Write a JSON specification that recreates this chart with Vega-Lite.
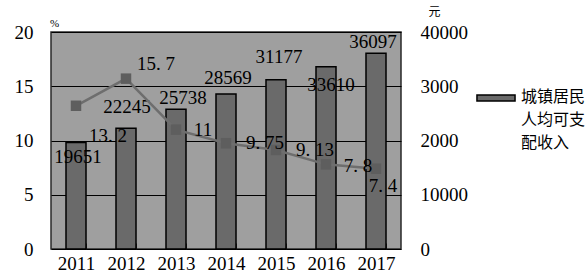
{
  "$schema": "https://vega.github.io/schema/vega-lite/v6.json",
  "width": 350,
  "height": 217,
  "autosize": {"type": "none"},
  "padding": {"left": 51, "top": 32, "right": 187, "bottom": 25},
  "background": "white",
  "config": {
    "font": "Liberation Serif",
    "view": {"fill": "#9f9f9f", "stroke": "#2a2a2a", "strokeWidth": 1.5}
  },
  "data": {
    "values": [
      {"year": "2011", "income": 19651, "rate": 13.2, "series": "城镇居民人均可支配收入"},
      {"year": "2012", "income": 22245, "rate": 15.7, "series": "城镇居民人均可支配收入"},
      {"year": "2013", "income": 25738, "rate": 11, "series": "城镇居民人均可支配收入"},
      {"year": "2014", "income": 28569, "rate": 9.75, "series": "城镇居民人均可支配收入"},
      {"year": "2015", "income": 31177, "rate": 9.13, "series": "城镇居民人均可支配收入"},
      {"year": "2016", "income": 33610, "rate": 7.8, "series": "城镇居民人均可支配收入"},
      {"year": "2017", "income": 36097, "rate": 7.4, "series": "城镇居民人均可支配收入"}
    ]
  },
  "encoding": {
    "x": {
      "field": "year",
      "type": "ordinal",
      "scale": {"paddingInner": 0.6, "paddingOuter": 0.3},
      "axis": {
        "title": null,
        "labelAngle": 0,
        "labelFontSize": 19,
        "labelColor": "black",
        "labelPadding": 11,
        "domain": false,
        "ticks": true,
        "tickBand": "extent",
        "tickSize": -6,
        "tickColor": "#333",
        "tickWidth": 1
      }
    }
  },
  "layer": [
    {
      "encoding": {
        "y": {
          "field": "income",
          "type": "quantitative",
          "scale": {"domain": [0, 40000], "nice": false},
          "axis": {
            "orient": "right",
            "values": [0, 10000, 20000, 30000, 40000],
            "labelExpr": "datum.value == 30000 ? '3000' : datum.value == 20000 ? '2000' : datum.value",
            "labelFontSize": 19,
            "labelColor": "black",
            "labelPadding": 19,
            "ticks": false,
            "domain": false,
            "grid": false,
            "title": "元",
            "titleFont": "Noto Sans CJK SC",
            "titleFontSize": 12,
            "titleFontWeight": "normal",
            "titleAngle": 0,
            "titleX": 33,
            "titleY": -14,
            "titleColor": "black"
          }
        }
      },
      "layer": [
        {
          "mark": {"type": "bar", "stroke": "black", "strokeWidth": 1.5},
          "encoding": {
            "color": {
              "field": "series",
              "type": "nominal",
              "scale": {"range": ["#6a6a6a"]},
              "legend": {
                "orient": "none",
                "legendX": 425,
                "legendY": 46,
                "title": null,
                "padding": 0,
                "symbolType": "M-1,-0.16H1V0.16H-1Z",
                "symbolSize": 1450,
                "symbolStrokeColor": "black",
                "symbolStrokeWidth": 1.5,
                "labelExpr": "['城镇居民','人均可支','配收入']",
                "labelFont": "Noto Sans CJK SC",
                "labelFontSize": 16,
                "labelColor": "black",
                "labelLimit": 0,
                "labelBaseline": "top",
                "labelOffset": 5,
                "encode": {"labels": {"update": {"lineHeight": {"value": 23}, "dy": {"value": -9}}}}
              }
            }
          }
        },
        {
          "mark": {
            "type": "text",
            "baseline": "middle",
            "fontSize": 19,
            "color": "black",
            "dx": {"expr": "[2,1,7,2,3,5,-3][toNumber(datum.year) - 2011]"},
            "dy": {"expr": "[15,-21,-11,-16,-23,18,-11][toNumber(datum.year) - 2011]"}
          },
          "encoding": {"text": {"field": "income", "type": "quantitative", "format": "d"}}
        }
      ]
    },
    {
      "encoding": {
        "y": {
          "field": "rate",
          "type": "quantitative",
          "scale": {"domain": [0, 20], "nice": false},
          "axis": {
            "orient": "left",
            "values": [0, 5, 10, 15, 20],
            "labelFontSize": 19,
            "labelColor": "black",
            "labelPadding": 18,
            "ticks": false,
            "domain": false,
            "grid": true,
            "gridColor": "black",
            "gridWidth": 1,
            "gridOpacity": 1,
            "title": "%",
            "titleFontSize": 11,
            "titleFontWeight": "normal",
            "titleAngle": 0,
            "titleX": 3,
            "titleY": -4,
            "titleColor": "black"
          }
        }
      },
      "layer": [
        {
          "mark": {
            "type": "line",
            "color": "#6e6e6e",
            "strokeWidth": 2.5,
            "point": {"shape": "square", "size": 110, "filled": true, "color": "#5e5e5e"}
          }
        },
        {
          "transform": [{"calculate": "replace(toString(datum.rate), '.', '. ')", "as": "rateLabel"}],
          "mark": {
            "type": "text",
            "baseline": "middle",
            "fontSize": 19,
            "color": "black",
            "dx": {"expr": "[32,30,27,39,39,32,7][toNumber(datum.year) - 2011]"},
            "dy": {"expr": "[30,-15,0,0,0,2,17][toNumber(datum.year) - 2011]"}
          },
          "encoding": {"text": {"field": "rateLabel", "type": "nominal"}}
        }
      ]
    }
  ],
  "resolve": {"scale": {"y": "independent"}}
}
